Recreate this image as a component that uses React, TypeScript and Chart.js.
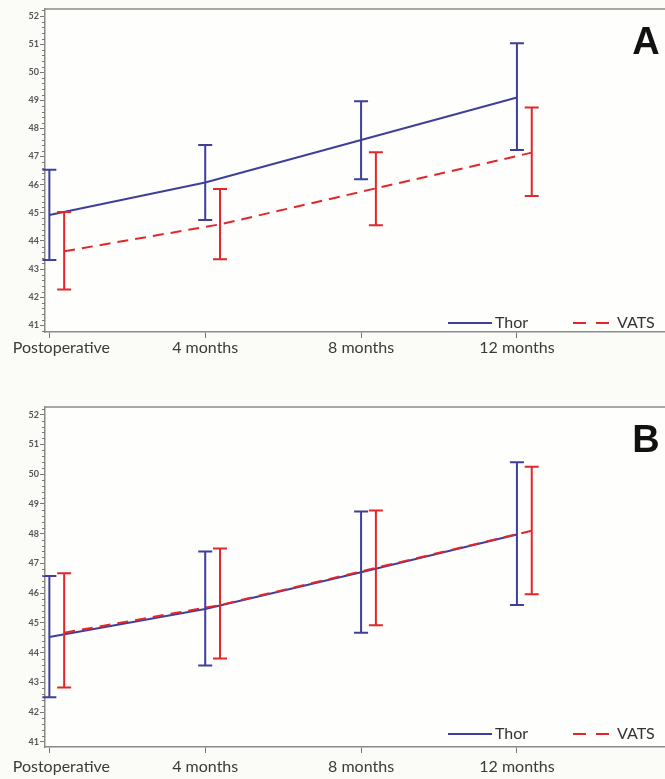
import React, { useEffect, useRef } from "react";
import { Chart, registerables } from "chart.js";

Chart.register(...registerables);

// ---------- data ----------
const categories = ["Postoperative", "4 months", "8 months", "12 months"];
const yTickValues = [41, 42, 43, 44, 45, 46, 47, 48, 49, 50, 51, 52];
const seriesNames = ["Thor", "VATS"];
const vatsShift = 0.095;

// Panel A
const thorMeanA = [44.92, 46.08, 47.59, 49.1];
const thorLowA = [43.32, 44.74, 46.19, 47.23];
const thorHighA = [46.53, 47.41, 48.97, 51.03];
const vatsMeanA = [43.63, 44.59, 45.87, 47.14];
const vatsLowA = [42.27, 43.35, 44.56, 45.6];
const vatsHighA = [45.03, 45.85, 47.15, 48.75];

// Panel B
const thorMeanB = [44.53, 45.47, 46.7, 47.97];
const thorLowB = [42.5, 43.57, 44.67, 45.6];
const thorHighB = [46.58, 47.4, 48.74, 50.4];
const vatsMeanB = [44.67, 45.6, 46.85, 48.1];
const vatsLowB = [42.83, 43.8, 44.92, 45.96];
const vatsHighB = [46.67, 47.5, 48.78, 50.25];

// ---------- style ----------
const BLUE = "#3f3f9b";
const RED = "#e3262b";
const PAGE_BG = "#fbfbf7";
const PLOT_BG = "#fefefc";
const AXIS = "#8a8a8a";
const FONT = "Lato, 'Open Sans', sans-serif";
const FIRST_LABEL_NUDGE = 12; // first category label is kept inside the figure

interface PanelSpec {
  letter: string;
  thorMean: number[];
  thorLow: number[];
  thorHigh: number[];
  vatsMean: number[];
  vatsLow: number[];
  vatsHigh: number[];
  yMin: number;
  yMax: number;
  height: number;
  padTop: number;
  xAxisHeight: number;
  labelPad: number;
  legendUp: number;
}

const panelA: PanelSpec = {
  letter: "A",
  thorMean: thorMeanA, thorLow: thorLowA, thorHigh: thorHighA,
  vatsMean: vatsMeanA, vatsLow: vatsLowA, vatsHigh: vatsHighA,
  yMin: 40.76, yMax: 52.25,
  height: 376, padTop: 9, xAxisHeight: 44, labelPad: 8, legendUp: 9,
};

const panelB: PanelSpec = {
  letter: "B",
  thorMean: thorMeanB, thorLow: thorLowB, thorHigh: thorHighB,
  vatsMean: vatsMeanB, vatsLow: vatsLowB, vatsHigh: vatsHighB,
  yMin: 40.83, yMax: 52.256,
  height: 403, padTop: 31, xAxisHeight: 32, labelPad: 12, legendUp: 13,
};

function buildChart(canvas: HTMLCanvasElement, p: PanelSpec) {
  const bgPlugin = {
    id: "bg",
    beforeDraw(chart: any) {
      const { ctx, chartArea: a, width, height } = chart;
      ctx.save();
      ctx.fillStyle = PAGE_BG;
      ctx.fillRect(0, 0, width, height);
      ctx.fillStyle = PLOT_BG;
      ctx.fillRect(a.left, a.top, a.right - a.left, a.bottom - a.top);
      ctx.restore();
    },
  };

  const errPlugin = {
    id: "errbars",
    afterDatasetsDraw(chart: any) {
      const { ctx } = chart;
      const xs = chart.scales.x;
      const ys = chart.scales.y;
      const groups = [
        { low: p.thorLow, high: p.thorHigh, shift: 0, color: BLUE },
        { low: p.vatsLow, high: p.vatsHigh, shift: vatsShift, color: RED },
      ];
      ctx.save();
      ctx.lineWidth = 2;
      ctx.setLineDash([]);
      groups.forEach((g) => {
        ctx.strokeStyle = g.color;
        g.low.forEach((lo, i) => {
          const px = xs.getPixelForValue(i + g.shift);
          const y1 = ys.getPixelForValue(lo);
          const y2 = ys.getPixelForValue(g.high[i]);
          ctx.beginPath();
          ctx.moveTo(px, y1);
          ctx.lineTo(px, y2);
          ctx.moveTo(px - 7, y1);
          ctx.lineTo(px + 7, y1);
          ctx.moveTo(px - 7, y2);
          ctx.lineTo(px + 7, y2);
          ctx.stroke();
        });
      });
      ctx.restore();
    },
  };

  const decoPlugin = {
    id: "deco",
    afterDraw(chart: any) {
      const { ctx, chartArea: a } = chart;
      const xs = chart.scales.x;
      const ys = chart.scales.y;
      ctx.save();
      // top frame line
      ctx.strokeStyle = AXIS;
      ctx.lineWidth = 1.5;
      ctx.beginPath();
      ctx.moveTo(a.left, a.top);
      ctx.lineTo(a.right, a.top);
      ctx.stroke();
      // minor ticks
      ctx.lineWidth = 1;
      ctx.strokeStyle = "#777";
      for (let k = Math.ceil(p.yMin * 5); k <= Math.floor(p.yMax * 5); k++) {
        if (k % 5 === 0) continue;
        const py = Math.round(ys.getPixelForValue(k / 5)) + 0.5;
        ctx.beginPath();
        ctx.moveTo(a.left - 3, py);
        ctx.lineTo(a.left, py);
        ctx.stroke();
      }
      // category labels
      ctx.fillStyle = "#3a3a3a";
      ctx.font = `16px ${FONT}`;
      ctx.textAlign = "center";
      ctx.textBaseline = "top";
      categories.forEach((c, i) => {
        const px = xs.getPixelForValue(i) + (i === 0 ? FIRST_LABEL_NUDGE : 0);
        ctx.fillText(c, px, a.bottom + p.labelPad);
      });
      // legend
      const ly = a.bottom - p.legendUp;
      ctx.lineWidth = 2;
      ctx.strokeStyle = BLUE;
      ctx.setLineDash([]);
      ctx.beginPath();
      ctx.moveTo(a.right - 217, ly);
      ctx.lineTo(a.right - 173, ly);
      ctx.stroke();
      ctx.fillStyle = "#333";
      ctx.font = `16px ${FONT}`;
      ctx.textBaseline = "middle";
      ctx.textAlign = "left";
      ctx.fillText(seriesNames[0], a.right - 170, ly);
      ctx.strokeStyle = RED;
      ctx.setLineDash([13, 10]);
      ctx.beginPath();
      ctx.moveTo(a.right - 92, ly);
      ctx.lineTo(a.right - 55, ly);
      ctx.stroke();
      ctx.setLineDash([]);
      ctx.fillText(seriesNames[1], a.right - 48, ly);
      // panel letter
      ctx.fillStyle = "#111";
      ctx.font = `bold 38px 'Liberation Sans', Arial, sans-serif`;
      ctx.textAlign = "center";
      ctx.textBaseline = "alphabetic";
      ctx.fillText(p.letter, a.right - 19, a.top + 45);
      ctx.restore();
    },
  };

  return new Chart(canvas, {
    type: "line",
    data: {
      datasets: [
        {
          label: seriesNames[0],
          data: p.thorMean.map((v, i) => ({ x: i, y: v })),
          borderColor: BLUE,
          borderWidth: 2,
          pointRadius: 0,
          tension: 0,
          order: 1,
        },
        {
          label: seriesNames[1],
          data: p.vatsMean.map((v, i) => ({ x: i + vatsShift, y: v })),
          borderColor: RED,
          borderWidth: 2,
          borderDash: [11, 7],
          pointRadius: 0,
          tension: 0,
          order: 0,
        },
      ],
    },
    options: {
      animation: false,
      responsive: false,
      maintainAspectRatio: false,
      events: [],
      layout: { padding: { top: p.padTop, right: 0, bottom: 0, left: 0 } },
      plugins: {
        legend: { display: false },
        tooltip: { enabled: false },
      },
      scales: {
        x: {
          type: "linear",
          min: -0.028,
          max: 3.95,
          afterBuildTicks: (s: any) => {
            s.ticks = categories.map((_, i) => ({ value: i }));
          },
          afterFit: (s: any) => {
            s.height = p.xAxisHeight;
            s.paddingLeft = 0;
            s.paddingRight = 0;
          },
          ticks: { display: false },
          grid: { drawOnChartArea: false, tickLength: 6, tickColor: "#777", tickWidth: 1 },
          border: { color: AXIS, width: 1.5 },
        },
        y: {
          type: "linear",
          min: p.yMin,
          max: p.yMax,
          afterBuildTicks: (s: any) => {
            s.ticks = yTickValues.map((v) => ({ value: v }));
          },
          afterFit: (s: any) => {
            s.width = 45;
            s.paddingTop = 0;
            s.paddingBottom = 0;
          },
          ticks: {
            font: { family: FONT, size: 9, weight: "bold" },
            color: "#555",
            padding: 1,
          },
          grid: { drawOnChartArea: false, tickLength: 5, tickColor: "#777", tickWidth: 1 },
          border: { color: AXIS, width: 1.5 },
        },
      },
    } as any,
    plugins: [bgPlugin, errPlugin, decoPlugin],
  });
}

function Panel({ spec }: { spec: PanelSpec }) {
  const ref = useRef<HTMLCanvasElement | null>(null);
  useEffect(() => {
    if (!ref.current) return;
    const c = buildChart(ref.current, spec);
    return () => c.destroy();
  }, [spec]);
  return (
    <canvas
      ref={ref}
      width={665}
      height={spec.height}
      style={{ display: "block", width: 665, height: spec.height }}
    />
  );
}

export default function App() {
  return (
    <div
      style={{
        position: "absolute",
        left: 0,
        top: 0,
        width: 665,
        height: 779,
        background: PAGE_BG,
        overflow: "hidden",
      }}
    >
      <Panel spec={panelA} />
      <Panel spec={panelB} />
    </div>
  );
}
